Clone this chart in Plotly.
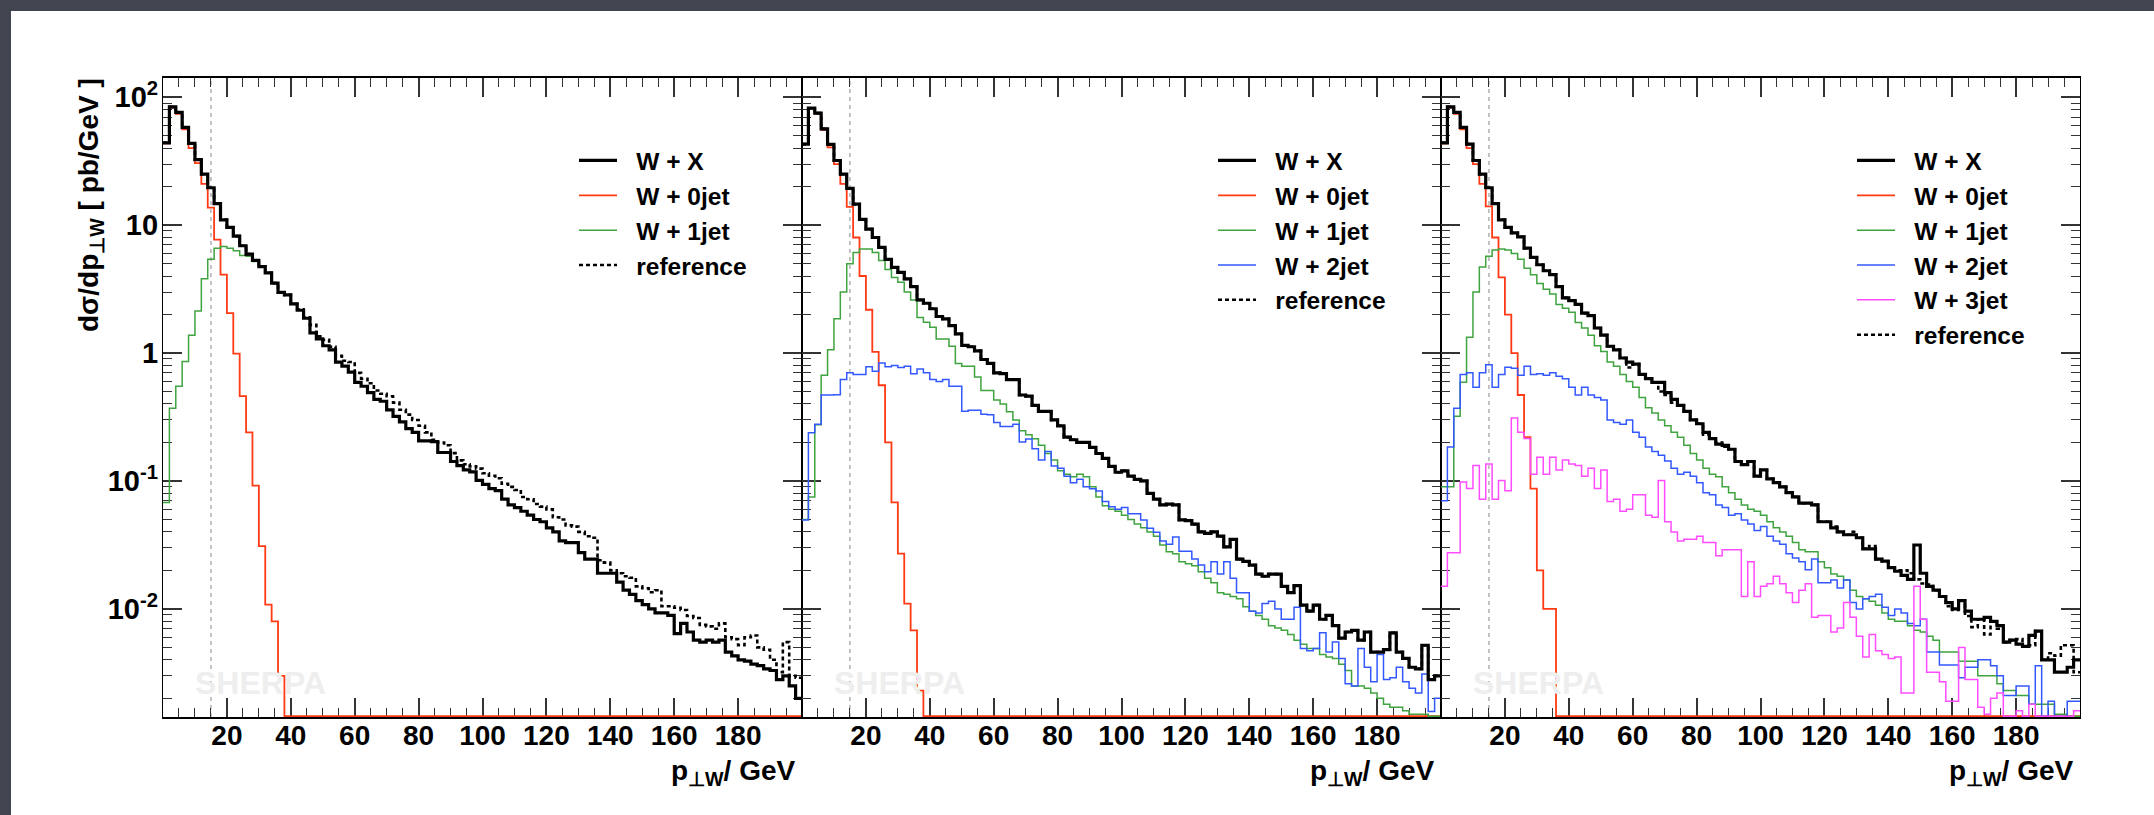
import math
import plotly.graph_objects as go

W, H = 2154, 815

# ---------------- data (dσ/dp⊥W in pb/GeV, 2 GeV bins from 0 to 200 GeV) ----------------
pt_edges = list(range(0, 202, 2))
pt_cut = 15.0

wx_1 = [44, 84, 76, 58, 43.5, 32.5, 25, 19.6, 14.7, 11.0,
        9.6, 8.2, 6.9, 5.93, 5.3, 4.74, 4.24, 3.52, 2.98, 2.85,
        2.42, 2.16, 1.87, 1.44, 1.29, 1.14, 1.06, 0.85, 0.79, 0.71,
        0.59, 0.55, 0.49, 0.435, 0.42, 0.36, 0.32, 0.29, 0.257, 0.24,
        0.206, 0.206, 0.203, 0.167, 0.167, 0.142, 0.132, 0.122, 0.118, 0.101,
        0.094, 0.087, 0.084, 0.072, 0.065, 0.062, 0.058, 0.054, 0.050, 0.048,
        0.043, 0.040, 0.034, 0.033, 0.033, 0.0275, 0.0245, 0.0245, 0.019, 0.019,
        0.019, 0.0162, 0.014, 0.013, 0.0116, 0.0108, 0.0100, 0.0093, 0.0093, 0.0089,
        0.0064, 0.0077, 0.0066, 0.0057, 0.0055, 0.0057, 0.0055, 0.0057, 0.0046, 0.0043,
        0.0040, 0.0039, 0.0037, 0.0036, 0.0034, 0.0033, 0.0028, 0.0030, 0.0025, 0.0020]
ref_1 = [44, 84, 76, 58, 43.5, 32.5, 25, 19.6, 14.7, 11.0,
         9.6, 8.2, 6.9, 5.93, 5.3, 4.74, 4.24, 3.52, 2.98, 2.85,
         2.42, 2.2, 1.9, 1.66, 1.35, 1.27, 1.12, 0.95, 0.87, 0.85,
         0.70, 0.63, 0.58, 0.51, 0.48, 0.46, 0.41, 0.36, 0.33, 0.30,
         0.27, 0.24, 0.21, 0.20, 0.19, 0.165, 0.145, 0.135, 0.13, 0.125,
         0.115, 0.11, 0.105, 0.095, 0.09, 0.085, 0.075, 0.072, 0.066, 0.063,
         0.060, 0.052, 0.050, 0.045, 0.044, 0.040, 0.037, 0.036, 0.024, 0.023,
         0.020, 0.019, 0.018, 0.0175, 0.015, 0.0145, 0.0135, 0.014, 0.0105, 0.0105,
         0.0102, 0.0098, 0.0088, 0.0085, 0.0075, 0.0073, 0.0070, 0.0077, 0.0060, 0.0058,
         0.0052, 0.0060, 0.0062, 0.0050, 0.0048, 0.0040, 0.0032, 0.0055, 0.0030, 0.0029]
jet0_1 = [43.5, 83, 74, 56, 40, 30.5, 21, 13.7, 7.7, 4.1,
          2.05, 0.99, 0.46, 0.24, 0.092, 0.031, 0.0108, 0.008, 0.003] + [0] * 81
jet1_1 = [0.068, 0.37, 0.55, 0.86, 1.38, 2.13, 3.8, 5.4, 6.6, 6.8,
          6.6, 6.3, 5.8, 5.7, 5.2, 4.7, 4.23, 3.51, 2.98] + wx_1[19:]

wx_2 = [43, 82, 75, 56.5, 42.7, 32, 25, 19.4, 14.6, 11.1,
        9.3, 8.0, 6.7, 5.4, 4.68, 4.27, 3.8, 3.3, 2.6, 2.45,
        2.22, 1.93, 1.85, 1.64, 1.41, 1.15, 1.12, 1.04, 0.89, 0.83,
        0.70, 0.69, 0.62, 0.62, 0.47, 0.46, 0.39, 0.35, 0.35, 0.30,
        0.27, 0.22, 0.21, 0.20, 0.20, 0.183, 0.164, 0.15, 0.13, 0.117,
        0.12, 0.109, 0.103, 0.10, 0.08, 0.072, 0.065, 0.066, 0.065, 0.0496,
        0.049, 0.046, 0.040, 0.039, 0.040, 0.037, 0.0305, 0.035, 0.0245, 0.0235,
        0.022, 0.0187, 0.018, 0.0187, 0.0187, 0.015, 0.0134, 0.0152, 0.0107, 0.0096,
        0.0107, 0.0083, 0.0089, 0.0074, 0.0059, 0.0066, 0.0068, 0.0057, 0.0066, 0.0046,
        0.0046, 0.0048, 0.0065, 0.0046, 0.0041, 0.0035, 0.0034, 0.0052, 0.0028, 0.0030]
ref_2 = list(wx_2)
jet0_2 = [43, 81.5, 74, 55.5, 40.5, 30, 21, 13.9, 8.0, 4.0,
          2.18, 1.02, 0.56, 0.2, 0.068, 0.027, 0.011, 0.0068, 0.0023] + [0] * 81
jet1_2 = [0.05, 0.075, 0.275, 0.67, 1.06, 1.85, 3.0, 5.0, 6.1, 6.5,
          6.5, 6.1, 5.3, 4.5, 3.9, 3.57, 3.0, 2.6, 1.9, 1.74,
          1.59, 1.29, 1.29, 1.13, 0.83, 0.79, 0.79, 0.65, 0.51, 0.51,
          0.43, 0.40, 0.347, 0.30, 0.247, 0.23, 0.214, 0.19, 0.164, 0.146,
          0.12, 0.113, 0.108, 0.113, 0.108, 0.09, 0.075, 0.064, 0.06, 0.058,
          0.054, 0.05, 0.046, 0.043, 0.040, 0.037, 0.0316, 0.028, 0.027, 0.0234,
          0.0225, 0.0217, 0.0195, 0.0174, 0.016, 0.0134, 0.013, 0.0125, 0.012, 0.0104,
          0.0096, 0.0089, 0.0083, 0.0074, 0.0071, 0.0068, 0.0063, 0.0057, 0.0053, 0.0049,
          0.0049, 0.0044, 0.0042, 0.0041, 0.0037, 0.0033, 0.0025, 0.0025, 0.0024, 0.0022,
          0.0020, 0.0018, 0.0017, 0.0017, 0.0016, 0.0015, 0.0015, 0.0015, 0.0012, 0.0013]
jet2_2 = [0.0495, 0.238, 0.277, 0.47, 0.47, 0.473, 0.62, 0.70, 0.68, 0.68,
          0.78, 0.72, 0.836, 0.78, 0.80, 0.77, 0.79, 0.69, 0.75, 0.70,
          0.62, 0.60, 0.62, 0.55, 0.55, 0.35, 0.357, 0.357, 0.333, 0.33,
          0.287, 0.266, 0.266, 0.277, 0.202, 0.213, 0.179, 0.146, 0.17, 0.131,
          0.126, 0.109, 0.097, 0.103, 0.09, 0.087, 0.0836, 0.069, 0.063, 0.06,
          0.062, 0.0555, 0.0555, 0.0495, 0.0427, 0.0397, 0.034, 0.032, 0.0365, 0.0282,
          0.0282, 0.0245, 0.022, 0.0195, 0.0234, 0.0187, 0.0234, 0.0174, 0.0134, 0.0134,
          0.0096, 0.0093, 0.011, 0.0115, 0.010, 0.0083, 0.0083, 0.0103, 0.0049, 0.0047,
          0.0049, 0.0065, 0.0046, 0.0055, 0.0041, 0.0026, 0.0025, 0.0049, 0.0035, 0.0027,
          0.0044, 0.0028, 0.0029, 0.0035, 0.0027, 0.0024, 0.0022, 0.0031, 0.00158, 0.0020]

wx_3 = [44, 84, 76, 58, 43, 32, 25, 19.6, 14.7, 11.0,
        9.6, 8.7, 8.1, 6.6, 5.6, 4.9, 4.4, 4.1, 3.3, 2.7,
        2.57, 2.4, 2.05, 1.96, 1.57, 1.38, 1.13, 1.06, 0.915, 0.85,
        0.82, 0.68, 0.63, 0.59, 0.59, 0.49, 0.435, 0.39, 0.35, 0.30,
        0.28, 0.24, 0.214, 0.194, 0.19, 0.177, 0.142, 0.134, 0.142, 0.109,
        0.122, 0.104, 0.097, 0.090, 0.081, 0.075, 0.067, 0.067, 0.065, 0.048,
        0.048, 0.043, 0.040, 0.038, 0.038, 0.036, 0.0295, 0.0295, 0.0245, 0.0236,
        0.021, 0.0197, 0.0183, 0.017, 0.0316, 0.019, 0.015, 0.014, 0.0125, 0.0112,
        0.010, 0.0116, 0.0096, 0.0083, 0.0083, 0.0086, 0.008, 0.0074, 0.0055, 0.0057,
        0.0053, 0.0051, 0.0062, 0.0067, 0.0040, 0.0040, 0.0032, 0.0032, 0.0035, 0.0040]
ref_3 = [44, 84, 76, 58, 43, 32, 25, 19.6, 14.7, 11.0,
         9.6, 8.7, 8.1, 6.6, 5.6, 4.9, 4.4, 4.1, 3.3, 2.7,
         2.57, 2.4, 2.05, 1.96, 1.57, 1.38, 1.13, 1.06, 0.915, 0.77,
         0.82, 0.68, 0.63, 0.59, 0.50, 0.47, 0.41, 0.39, 0.35, 0.30,
         0.28, 0.23, 0.214, 0.20, 0.185, 0.177, 0.142, 0.134, 0.142, 0.109,
         0.122, 0.104, 0.097, 0.090, 0.081, 0.075, 0.067, 0.067, 0.065, 0.048,
         0.048, 0.044, 0.040, 0.038, 0.040, 0.036, 0.0295, 0.031, 0.0245, 0.0236,
         0.021, 0.020, 0.020, 0.019, 0.017, 0.0158, 0.0155, 0.014, 0.0125, 0.0105,
         0.0098, 0.0116, 0.0088, 0.0072, 0.0083, 0.0063, 0.008, 0.0070, 0.0055, 0.0057,
         0.0058, 0.0051, 0.0052, 0.0067, 0.0040, 0.0045, 0.0043, 0.0052, 0.0052, 0.0032]
jet0_3 = [43.5, 83, 74, 56, 40, 30, 21, 14, 8.0, 3.9,
          2.0, 1.0, 0.47, 0.22, 0.087, 0.02, 0.01, 0.01] + [0] * 82
jet1_3 = [0.09, 0.09, 0.32, 0.59, 1.33, 3.0, 4.7, 5.7, 6.4, 6.5,
          6.4, 6.0, 5.4, 4.6, 4.1, 3.5, 3.15, 2.9, 2.4, 2.24,
          2.08, 1.73, 1.57, 1.38, 1.14, 1.03, 0.85, 0.79, 0.68, 0.60,
          0.54, 0.45, 0.374, 0.34, 0.30, 0.27, 0.24, 0.22, 0.19, 0.164,
          0.146, 0.126, 0.113, 0.108, 0.09, 0.081, 0.072, 0.065, 0.06, 0.058,
          0.054, 0.048, 0.043, 0.04, 0.037, 0.033, 0.029, 0.028, 0.028, 0.0234,
          0.021, 0.0187, 0.018, 0.0168, 0.014, 0.0125, 0.012, 0.0115, 0.0107, 0.0093,
          0.0083, 0.008, 0.008, 0.0074, 0.0068, 0.0066, 0.0061, 0.0057, 0.0046, 0.0046,
          0.0046, 0.0039, 0.0039, 0.0039, 0.003, 0.003, 0.003, 0.0026, 0.0023, 0.0023,
          0.0021, 0.0021, 0.0018, 0.0018, 0.0018, 0.0018, 0.0015, 0.0015, 0.0012, 0.0012]
jet2_3 = [0.07, 0.184, 0.37, 0.68, 0.70, 0.54, 0.70, 0.81, 0.54, 0.68,
          0.776, 0.76, 0.67, 0.787, 0.68, 0.69, 0.67, 0.70, 0.66, 0.63,
          0.54, 0.47, 0.54, 0.47, 0.45, 0.43, 0.30, 0.287, 0.277, 0.30,
          0.24, 0.22, 0.184, 0.17, 0.159, 0.143, 0.126, 0.113, 0.117, 0.109,
          0.097, 0.081, 0.078, 0.065, 0.062, 0.054, 0.0555, 0.0495, 0.046, 0.041,
          0.044, 0.037, 0.034, 0.032, 0.027, 0.025, 0.0234, 0.0202, 0.0245, 0.016,
          0.016, 0.0168, 0.0146, 0.0168, 0.0112, 0.010, 0.012, 0.0125, 0.013, 0.0103,
          0.0089, 0.010, 0.0093, 0.0077, 0.0074, 0.0083, 0.0046, 0.0046, 0.00365, 0.00365,
          0.00365, 0.0029, 0.0035, 0.0035, 0.0040, 0.0040, 0.0036, 0.0030, 0.0021, 0.0021,
          0.0025, 0.0025, 0.0018, 0.0036, 0, 0.0019, 0, 0, 0.0019, 0.0019]
jet3_3 = [0.015, 0.0275, 0.0275, 0.098, 0.0875, 0.132, 0.072, 0.136, 0.072, 0.101,
          0.084, 0.31, 0.24, 0.215, 0.113, 0.153, 0.113, 0.153, 0.122, 0.146,
          0.136, 0.132, 0.109, 0.126, 0.0875, 0.122, 0.069, 0.072, 0.058, 0.06,
          0.078, 0.078, 0.054, 0.052, 0.101, 0.048, 0.04, 0.034, 0.035, 0.035,
          0.037, 0.033, 0.033, 0.026, 0.029, 0.029, 0.029, 0.0125, 0.0234, 0.0125,
          0.015, 0.0157, 0.018, 0.0157, 0.0134, 0.0112, 0.014, 0.0157, 0.0086, 0.0089,
          0.0089, 0.0066, 0.0071, 0.0112, 0.0086, 0.0061, 0.0042, 0.0063, 0.0047, 0.0044,
          0.0041, 0.0042, 0.0022, 0.0022, 0.015, 0.0083, 0.0032, 0.0032, 0.0027, 0.0019,
          0.0019, 0.005, 0.0028, 0.0028, 0.0017, 0.0015, 0.002, 0.0022, 0, 0,
          0.0016, 0, 0.0018, 0, 0, 0, 0, 0, 0, 0.0016]

panels = [
    [("W + X", wx_1, "wx"), ("W + 0jet", jet0_1, "j0"), ("W + 1jet", jet1_1, "j1"),
     ("reference", ref_1, "ref")],
    [("W + X", wx_2, "wx"), ("W + 0jet", jet0_2, "j0"), ("W + 1jet", jet1_2, "j1"),
     ("W + 2jet", jet2_2, "j2"), ("reference", ref_2, "ref")],
    [("W + X", wx_3, "wx"), ("W + 0jet", jet0_3, "j0"), ("W + 1jet", jet1_3, "j1"),
     ("W + 2jet", jet2_3, "j2"), ("W + 3jet", jet3_3, "j3"), ("reference", ref_3, "ref")],
]
for p in panels:
    for _n, v, _k in p:
        assert len(v) == 100, (_n, len(v))

x_ticks = [20, 40, 60, 80, 100, 120, 140, 160, 180]
y_ticks = [1e-2, 1e-1, 1, 10, 100]
y_ticktext = ["10<sup>-2</sup>", "10<sup>-1</sup>", "1", "10", "10<sup>2</sup>"]

# ---------------- style ----------------
styles = {
    "wx": dict(color="black", width=3.2, dash="solid"),
    "j0": dict(color="#ff3a14", width=1.8, dash="solid"),
    "j1": dict(color="#3fa33f", width=1.5, dash="solid"),
    "j2": dict(color="#3358ff", width=1.5, dash="solid"),
    "j3": dict(color="#ff4cff", width=1.5, dash="solid"),
    "ref": dict(color="black", width=2.6, dash="4px,3px"),
}
draw_order = ["j0", "j1", "j2", "j3", "ref", "wx"]

LOG_LO, LOG_HI = -2.845, 2.15
floor_val = 10 ** (LOG_LO + 0.006)

panel_left = [163, 802, 1441]
panel_w = 639
plot_top, plot_bot = 78, 717

FONT = "Liberation Sans, Arial, Helvetica, sans-serif"
LEG_PAD = "\u2002\u200a"

fig = go.Figure()

for i, p in enumerate(panels):
    ax = "" if i == 0 else str(i + 1)
    lg = "legend" if i == 0 else "legend%d" % (i + 1)
    order = {k: n for n, (_, _, k) in enumerate(p)}
    items = sorted(p, key=lambda t: draw_order.index(t[2]))
    for name, vals, key in items:
        yv = [max(v, floor_val) for v in vals]
        yv = yv + [yv[-1]]
        st = styles[key]
        fig.add_trace(go.Scatter(
            x=pt_edges, y=yv, mode="lines", line_shape="hv",
            line=dict(color=st["color"], width=st["width"], dash=st["dash"]),
            name=LEG_PAD + name, xaxis="x" + ax, yaxis="y" + ax, legend=lg,
            legendrank=order[key] + 1, hoverinfo="skip", showlegend=True))

layout = dict(
    width=W, height=H, margin=dict(l=0, r=0, t=0, b=0),
    paper_bgcolor="#40454f", plot_bgcolor="white",
    font=dict(family=FONT, size=26, color="black", weight="bold"),
    showlegend=True,
    shapes=[dict(type="rect", xref="paper", yref="paper", x0=11 / W, x1=1.0,
                 y0=0, y1=1 - 11 / H, fillcolor="white", line_width=0, layer="below")],
    annotations=[],
)

minor_y = [m * 10 ** e for e in range(-3, 3) for m in range(2, 10)
           if LOG_LO <= math.log10(m * 10 ** e) <= LOG_HI]

ydom = [1 - plot_bot / H, 1 - plot_top / H]
for i in range(3):
    ax = "" if i == 0 else str(i + 1)
    x0 = panel_left[i] / W
    x1 = (panel_left[i] + panel_w) / W
    layout["xaxis" + ax] = dict(
        domain=[x0, x1], range=[0, 200], anchor="y" + ax,
        tickmode="array", tickvals=x_ticks, ticktext=[str(t) for t in x_ticks],
        ticks="inside", ticklen=19, tickwidth=1.6, tickcolor="#333",
        minor=dict(ticks="inside", ticklen=9, tickwidth=1.4, tickcolor="#333", dtick=5, tick0=0),
        showline=True, linecolor="black", linewidth=1.7, mirror="allticks",
        showgrid=False, zeroline=False, layer="below traces",
        tickfont=dict(size=28, family=FONT, weight="bold"), ticklabelstandoff=-7,
    )
    layout["yaxis" + ax] = dict(
        domain=ydom, type="log", range=[LOG_LO, LOG_HI], anchor="x" + ax,
        tickmode="array", tickvals=y_ticks, ticktext=y_ticktext,
        showticklabels=(i == 0),
        ticks="inside", ticklen=19, tickwidth=1.6, tickcolor="#333",
        minor=dict(ticks="inside", ticklen=9, tickwidth=1.4, tickcolor="#333",
                   tickmode="array", tickvals=minor_y),
        showline=True, linecolor="black", linewidth=1.3, mirror="allticks",
        showgrid=False, zeroline=False, layer="below traces",
        tickfont=dict(size=29, family=FONT, weight="bold"), ticklabelstandoff=-2,
    )
    # cut line at pT = 15 GeV
    layout["shapes"].append(dict(type="line", xref="x" + ax, yref="y%s domain" % ax,
                                 x0=pt_cut, x1=pt_cut, y0=0, y1=1,
                                 line=dict(color="#b0b0b0", width=1.5, dash="4px,4px"),
                                 layer="below"))
    # watermark
    layout["annotations"].append(dict(
        text="SHERPA", xref="paper", yref="paper",
        x=(panel_left[i] + 97) / W, y=1 - 683 / H, xanchor="center", yanchor="middle",
        showarrow=False, font=dict(size=32, color="#eeeeee", family=FONT, weight="bold")))
    # x title
    layout["annotations"].append(dict(
        text="p<sub>⊥W</sub>/ GeV", xref="paper", yref="paper",
        x=(panel_left[i] + panel_w - 4) / W, y=1 - 753 / H, xanchor="right", yanchor="top",
        showarrow=False, font=dict(size=28, color="black", family=FONT, weight="bold")))
    lg = "legend" if i == 0 else "legend%d" % (i + 1)
    layout[lg] = dict(
        x=(panel_left[i] + 411) / W, y=1 - 138 / H, xanchor="left", yanchor="top",
        bgcolor="rgba(0,0,0,0)", borderwidth=0, itemwidth=38,
        font=dict(size=24.5, family=FONT, color="black", weight="bold"),
        traceorder="normal", tracegroupgap=0)

layout["annotations"].append(dict(
    text="dσ/dp<sub>⊥W</sub> [ pb/GeV ]", xref="paper", yref="paper",
    x=90 / W, y=1 - 76 / H, xanchor="center", yanchor="top", textangle=-90,
    showarrow=False, font=dict(size=28, color="black", family=FONT, weight="bold")))

fig.update_layout(**layout)
fig.write_html("out.html")
